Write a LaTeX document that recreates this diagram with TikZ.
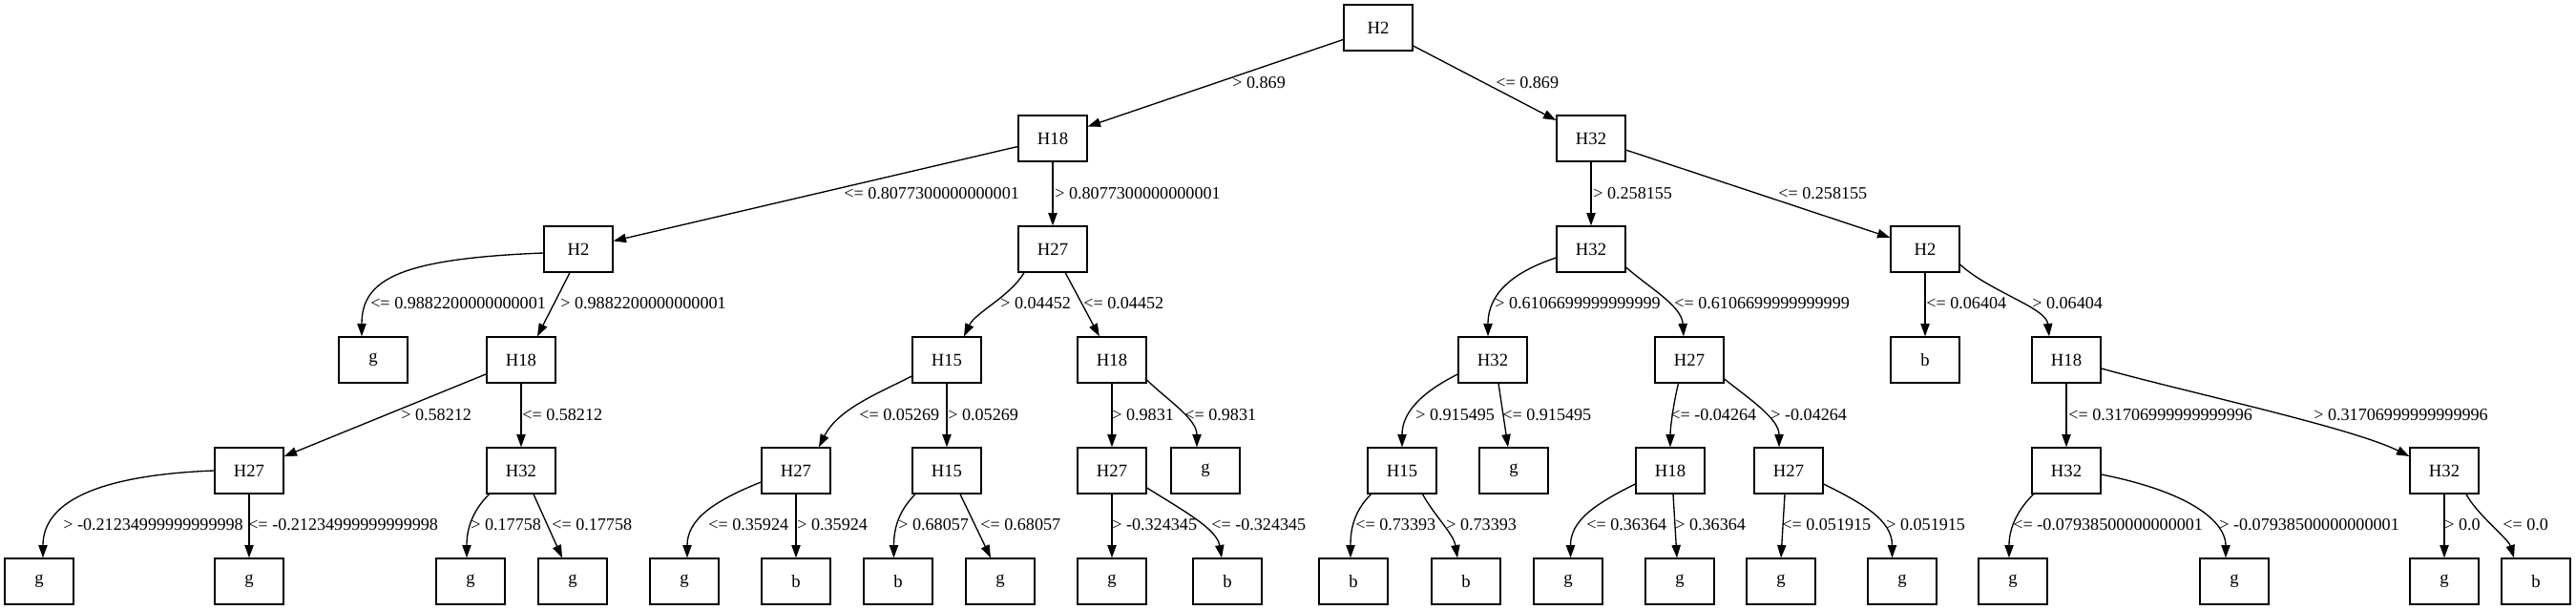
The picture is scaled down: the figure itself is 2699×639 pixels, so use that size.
\documentclass[tikz,border=0pt]{standalone}
\usepackage{fontspec}
\setmainfont{Liberation Serif}
\usetikzlibrary{arrows.meta,calc}
\begin{document}
\begin{tikzpicture}[x=0.75pt,y=-0.75pt,
  box/.style={draw,line width=1pt,minimum width=54pt,minimum height=36pt,inner sep=0pt,font=\fontsize{14pt}{16pt}\selectfont},
  lab/.style={anchor=west,inner sep=0pt,font=\fontsize{13.6pt}{16pt}\selectfont},
  e/.style={line width=1pt,-{Triangle[length=10pt,width=7pt]}}]
\path[use as bounding box,fill=white] (0,0) rectangle (2699,639);
% level 0
\node[box] (n0) at (1444,29) {H2};
% level 1
\node[box] (n1) at (1103,145) {H18};
\node[box] (n2) at (1667,145) {H32};
% level 2
\node[box] (n3) at (606,261) {H2};
\node[box] (n4) at (1103,261) {H27};
\node[box] (n5) at (1667,261) {H32};
\node[box] (n6) at (2017,261) {H2};
% level 3
\node[box] (n7) at (391,377) {g};
\node[box] (n8) at (546,377) {H18};
\node[box] (n9) at (992,377) {H15};
\node[box] (n10) at (1165,377) {H18};
\node[box] (n11) at (1564,377) {H32};
\node[box] (n12) at (1770,377) {H27};
\node[box] (n13) at (2017,377) {b};
\node[box] (n14) at (2165,377) {H18};
% level 4
\node[box] (n15) at (261,493) {H27};
\node[box] (n16) at (546,493) {H32};
\node[box] (n17) at (834,493) {H27};
\node[box] (n18) at (992,493) {H15};
\node[box] (n19) at (1165,493) {H27};
\node[box] (n20) at (1263,493) {g};
\node[box] (n21) at (1469,493) {H15};
\node[box] (n22) at (1586,493) {g};
\node[box] (n23) at (1750,493) {H18};
\node[box] (n24) at (1874,493) {H27};
\node[box] (n25) at (2165,493) {H32};
\node[box] (n26) at (2561,493) {H32};
% level 5
\node[box] (n27) at (41,609) {g};
\node[box] (n28) at (261,609) {g};
\node[box] (n29) at (493,609) {g};
\node[box] (n30) at (600,609) {g};
\node[box] (n31) at (717,609) {g};
\node[box] (n32) at (834,609) {b};
\node[box] (n33) at (941,609) {b};
\node[box] (n34) at (1048,609) {g};
\node[box] (n35) at (1165,609) {g};
\node[box] (n36) at (1286,609) {b};
\node[box] (n37) at (1418,609) {b};
\node[box] (n38) at (1536,609) {b};
\node[box] (n39) at (1643,609) {g};
\node[box] (n40) at (1760,609) {g};
\node[box] (n41) at (1866,609) {g};
\node[box] (n42) at (1993,609) {g};
\node[box] (n43) at (2109,609) {g};
\node[box] (n44) at (2341,609) {g};
\node[box] (n45) at (2561,609) {g};
\node[box] (n46) at (2657,609) {b};
% edges level 0-1-2
\draw[e] (n0) -- (n1);
\draw[e] (n0) -- (n2);
\draw[e] (n1) -- (n3);
\draw[e] (n1) -- (n4);
\draw[e] (n2) -- (n5);
\draw[e] (n2) -- (n6);
% level 2-3
\draw[e] ($(n3.west)+(0,4)$) .. controls +(-150,6) and +(0,-60) .. ($(n7.north)+(-12,0)$);
\draw[e] ($(n3.south)+(-9,0)$) -- ($(n8.north)+(17,0)$);
\draw[e] ($(n4.south)+(-30,0)$) .. controls +(-15,25) and +(12,-25) .. ($(n9.north)+(18,0)$);
\draw[e] (n4) -- (n10);
\draw[e] ($(n5.west)+(0,9)$) .. controls +(-45,15) and +(0,-45) .. ($(n11.north)+(-5,0)$);
\draw[e] ($(n5.east)+(0,19)$) .. controls +(25,22) and +(-2,-32) .. ($(n12.north)+(-6,0)$);
\draw[e] (n6) -- (n13);
\draw[e] ($(n6.east)+(0,16)$) .. controls +(30,28) and +(-3,-30) .. ($(n14.north)+(-18,0)$);
% level 3-4
\draw[e] (n8) -- (n15);
\draw[e] (n8) -- (n16);
\draw[e] ($(n9.west)+(0,17)$) .. controls +(-35,18) and +(20,-40) .. ($(n17.north)+(24,0)$);
\draw[e] (n9) -- (n18);
\draw[e] (n10) -- (n19);
\draw[e] ($(n10.east)+(0,21)$) .. controls +(20,20) and +(0,-30) .. ($(n20.north)+(-9,0)$);
\draw[e] ($(n11.west)+(0,15)$) .. controls +(-40,20) and +(0,-35) .. (n21.north);
\draw[e] ($(n11.south)+(6,0)$) -- ($(n22.north)+(-6,0)$);
\draw[e] ($(n12.south)+(-11.5,0)$) .. controls +(-5,20) and +(0,-20) .. (n23.north);
\draw[e] ($(n12.east)+(0,20)$) .. controls +(25,20) and +(0,-30) .. ($(n24.north)+(-10,0)$);
\draw[e] (n14) -- (n25);
\draw[e] ($(n14.east)+(0,9)$) .. controls +(90,25) and +(-60,-30) .. ($(n26.west)+(0,-15)$);
% level 4-5
\draw[e] (n15.west) .. controls +(-130,5) and +(0,-55) .. ($(n27.north)+(4,0)$);
\draw[e] (n15) -- (n28);
\draw[e] ($(n16.south)+(-33.5,0)$) .. controls +(-18,18) and +(0,-30) .. ($(n29.north)+(-4,0)$);
\draw[e] ($(n16.south)+(13,0)$) -- ($(n30.north)+(-11,0)$);
\draw[e] ($(n17.west)+(0,12)$) .. controls +(-50,20) and +(0,-40) .. ($(n31.north)+(3,0)$);
\draw[e] (n17) -- (n32);
\draw[e] ($(n18.south)+(-33,0)$) .. controls +(-18,18) and +(0,-30) .. ($(n33.north)+(-4.5,0)$);
\draw[e] ($(n18.south)+(14,0)$) -- ($(n34.north)+(-10,0)$);
\draw[e] (n19) -- (n35);
\draw[e] ($(n19.east)+(0,18)$) .. controls +(40,25) and +(-5,-30) .. ($(n36.north)+(-6,0)$);
\draw[e] ($(n21.south)+(-32.5,0)$) .. controls +(-18,18) and +(0,-30) .. ($(n37.north)+(-3,0)$);
\draw[e] ($(n21.south)+(21.5,0)$) .. controls +(12,22) and +(-4,-25) .. ($(n38.north)+(-9,0)$);
\draw[e] ($(n23.west)+(0,14)$) .. controls +(-40,20) and +(0,-40) .. ($(n39.north)+(2.5,0)$);
\draw[e] ($(n23.south)+(3,0)$) -- ($(n40.north)+(-3,0)$);
\draw[e] ($(n24.south)+(-4,0)$) -- (n41.north);
\draw[e] ($(n24.east)+(0,14)$) .. controls +(40,20) and +(0,-40) .. ($(n42.north)+(-10.5,0)$);
\draw[e] ($(n25.south)+(-34.5,0)$) .. controls +(-18,18) and +(0,-30) .. ($(n43.north)+(-4,0)$);
\draw[e] ($(n25.east)+(0,4)$) .. controls +(100,20) and +(0,-35) .. ($(n44.north)+(-9,0)$);
\draw[e] (n26) -- (n45);
\draw[e] ($(n26.south)+(23,0)$) .. controls +(10,20) and +(-6,-20) .. ($(n46.north)+(-23,0)$);
% labels
\node[lab] (l1) at (1291,87) {> 0.869};
\node[lab] (l2) at (1567,87) {<= 0.869};
\node[lab] (l3) at (884,203) {<= 0.8077300000000001};
\node[lab] (l4) at (1105,203) {> 0.8077300000000001};
\node[lab] (l5) at (1669,203) {> 0.258155};
\node[lab] (l6) at (1863,203) {<= 0.258155};
\node[lab] (l7) at (388,318) {<= 0.9882200000000001};
\node[lab] (l8) at (587,318) {> 0.9882200000000001};
\node[lab] (l9) at (1048,318) {> 0.04452};
\node[lab] (l10) at (1135,318) {<= 0.04452};
\node[lab] (l11) at (1566,318) {> 0.6106699999999999};
\node[lab] (l12) at (1754,318) {<= 0.6106699999999999};
\node[lab] (l13) at (2018,318) {<= 0.06404};
\node[lab] (l14) at (2129,318) {> 0.06404};
\node[lab] (l15) at (420,435) {> 0.58212};
\node[lab] (l16) at (547,435) {<= 0.58212};
\node[lab] (l17) at (900,435) {<= 0.05269};
\node[lab] (l18) at (993,435) {> 0.05269};
\node[lab] (l19) at (1165,435) {> 0.9831};
\node[lab] (l20) at (1241,435) {<= 0.9831};
\node[lab] (l21) at (1483,435) {> 0.915495};
\node[lab] (l22) at (1574,435) {<= 0.915495};
\node[lab] (l23) at (1750,435) {<= -0.04264};
\node[lab] (l24) at (1855,435) {> -0.04264};
\node[lab] (l25) at (2167,435) {<= 0.31706999999999996};
\node[lab] (l26) at (2424,435) {> 0.31706999999999996};
\node[lab] (l27) at (66,550) {> -0.21234999999999998};
\node[lab] (l28) at (260,550) {<= -0.21234999999999998};
\node[lab] (l29) at (493,550) {> 0.17758};
\node[lab] (l30) at (578,550) {<= 0.17758};
\node[lab] (l31) at (742,550) {<= 0.35924};
\node[lab] (l32) at (835,550) {> 0.35924};
\node[lab] (l33) at (941,550) {> 0.68057};
\node[lab] (l34) at (1027,550) {<= 0.68057};
\node[lab] (l35) at (1165,550) {> -0.324345};
\node[lab] (l36) at (1269,550) {<= -0.324345};
\node[lab] (l37) at (1420,550) {<= 0.73393};
\node[lab] (l38) at (1515,550) {> 0.73393};
\node[lab] (l39) at (1662,550) {<= 0.36364};
\node[lab] (l40) at (1755,550) {> 0.36364};
\node[lab] (l41) at (1867,550) {<= 0.051915};
\node[lab] (l42) at (1976,550) {> 0.051915};
\node[lab] (l43) at (2109,550) {<= -0.07938500000000001};
\node[lab] (l44) at (2325,550) {> -0.07938500000000001};
\node[lab] (l45) at (2561,550) {> 0.0};
\node[lab] (l46) at (2622,550) {<= 0.0};
\end{tikzpicture}
\end{document}
